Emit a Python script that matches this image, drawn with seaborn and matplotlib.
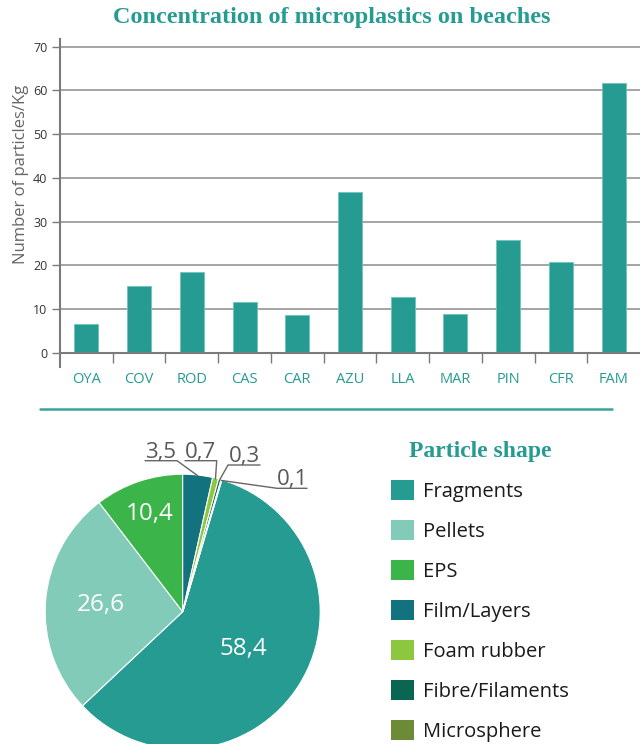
import matplotlib
matplotlib.use("Agg")

import matplotlib.pyplot as plt
import seaborn as sns
import pandas as pd
import numpy as np
from matplotlib.patches import Patch
from matplotlib.lines import Line2D

# Bar chart data
beaches = ["OYA", "COV", "ROD", "CAS", "CAR", "AZU", "LLA", "MAR", "PIN", "CFR", "FAM"]
particles_per_kg = [6.5, 15.2, 18.4, 11.5, 8.5, 36.8, 12.8, 8.8, 25.7, 20.8, 61.7]

# Pie chart data
shapes = ["Fragments", "Pellets", "EPS", "Film/Layers", "Foam rubber",
          "Fibre/Filaments", "Microsphere"]
shape_pct = [58.4, 26.6, 10.4, 3.5, 0.7, 0.3, 0.1]
shape_labels = ["58,4", "26,6", "10,4", "3,5", "0,7", "0,3", "0,1"]
shape_colors = ["#259b92", "#82cbb8", "#3bb54a", "#12737e",
                "#8dc63f", "#0a6650", "#6d8a36"]

TEAL = "#259b92"
GRAY = "#7a7a7a"

sns.set_theme(style="white")
plt.rcParams["font.family"] = ["Open Sans", "DejaVu Sans"]

W, H = 640, 744
fig = plt.figure(figsize=(W / 100, H / 100), dpi=100)


def px_box(l, t, r, b):
    return [l / W, 1 - b / H, (r - l) / W, (b - t) / H]


# ========================
# BAR CHART
# ========================
df = pd.DataFrame({"beach": beaches, "value": particles_per_kg})
ax = fig.add_axes(px_box(60, 39.3, 640, 367))
sns.barplot(data=df, x="beach", y="value", color=TEAL, saturation=1,
            width=0.455, edgecolor="#6cc5bd", linewidth=0.6, ax=ax)

ax.set_xlim(-0.5, len(beaches) - 0.5)
ax.set_ylim(-3.3, 71.7)
ax.set_yticks(range(0, 71, 10))
ax.yaxis.grid(True, color="#959595", linewidth=1.2)
ax.xaxis.grid(False)
ax.set_axisbelow(True)

for s in ["top", "right"]:
    ax.spines[s].set_visible(False)
ax.spines["bottom"].set_position(("data", 0))
for s in ["bottom", "left"]:
    ax.spines[s].set_color(GRAY)
    ax.spines[s].set_linewidth(1.5)

ax.set_xticks(np.arange(0.5, len(beaches) - 1, 1), minor=True)
ax.tick_params(axis="x", which="major", bottom=True, length=0, pad=14,
               labelsize=10.5, labelcolor=TEAL)
ax.tick_params(axis="x", which="minor", bottom=True, length=7, width=1,
               color=GRAY, direction="out")
ax.tick_params(axis="y", left=True, length=6, width=1, color=GRAY,
               labelsize=9, labelcolor="#333333", pad=3)

ax.set_xlabel("")
ax.set_ylabel("Number of particles/Kg", fontsize=12, color="#666666")
ax.yaxis.set_label_coords(-0.053, 0.587)

fig.text(332 / W, 1 - 18 / H, "Concentration of microplastics on beaches",
         ha="center", va="center", family="Liberation Serif",
         weight="bold", size=17.5, color=TEAL)

# separator
fig.add_artist(Line2D([40 / W, 612 / W], [1 - 409 / H] * 2, color="#3aa39a",
                      lw=1.8, transform=fig.transFigure))

# ========================
# PIE CHART
# ========================
CX, CY, R = 182.7, 611.7, 137.5
pax = fig.add_axes(px_box(0, 430, 370, 744))
start = 90 - 360 * sum(shape_pct[3:]) / sum(shape_pct)
wedges, _ = pax.pie(shape_pct, colors=shape_colors, startangle=start,
                    counterclock=False, radius=1,
                    wedgeprops=dict(edgecolor="white", linewidth=0.8))
pax.set_xlim(-CX / R, (370 - CX) / R)
pax.set_ylim((CY - 744) / R, (CY - 430) / R)


def mid(w):
    return np.deg2rad((w.theta1 + w.theta2) / 2)


# inside labels
inner_r = [0.52, 0.60, 0.75]
for w, lab, r in zip(wedges[:3], shape_labels[:3], inner_r):
    a = mid(w)
    pax.text(r * np.cos(a), r * np.sin(a), lab, color="white", size=17.5,
             ha="center", va="center")

# callouts for the small slices: underline (left px, right px, y px), elbow side
callouts = [(145, 177, 460.7, "right"), (185, 216.7, 460.7, "right"),
            (228, 260, 465, "left"), (277, 307, 488.3, "left")]
for w, lab, (xl, xr, yl, side) in zip(wedges[3:], shape_labels[3:], callouts):
    a = mid(w)
    wx, wy = 0.995 * np.cos(a), 0.995 * np.sin(a)
    x0, x1 = (xl - CX) / R, (xr - CX) / R
    y = (CY - yl) / R
    ex, ox = (x1, x0) if side == "right" else (x0, x1)
    pax.plot([wx, ex, ox], [wy, y, y], color="#666666", lw=1, clip_on=False)
    pax.text((x0 + x1) / 2, y + 3 / R, lab, color="#595959", size=16,
             ha="center", va="baseline")

# legend
handles = [Patch(facecolor=c, edgecolor="none", label=s)
           for s, c in zip(shapes, shape_colors)]
leg = fig.legend(handles=handles, loc="upper left",
                 bbox_to_anchor=(391 / W, 1 - 441 / H), frameon=False,
                 fontsize=14.5, handlelength=1.15, handleheight=1.15,
                 handletextpad=0.45, labelspacing=0.9, borderpad=0,
                 borderaxespad=0, title="Particle shape",
                 title_fontproperties={"family": "Liberation Serif",
                                       "weight": "bold", "size": 17})
leg.get_title().set_color(TEAL)
for t in leg.get_texts():
    t.set_color("#1a1a1a")

fig.savefig("out.png", dpi=100)
